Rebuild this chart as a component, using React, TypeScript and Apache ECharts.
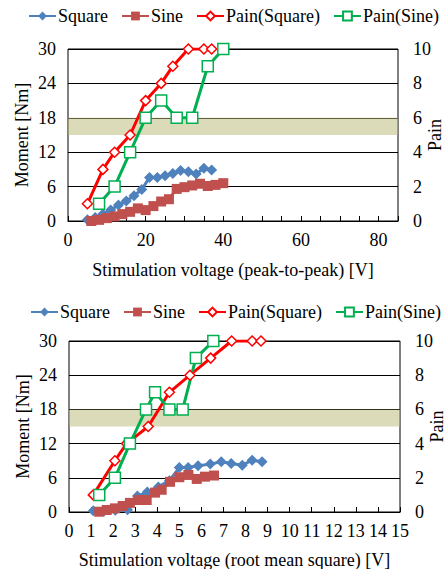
import React, { useEffect, useRef } from "react";
import * as echarts from "echarts";

const FONT = "'Liberation Serif', 'Times New Roman', serif";
const NAMES = ["Square", "Sine", "Pain(Square)", "Pain(Sine)"];

// Top chart: peak-to-peak voltage
const sqPPx = [5, 7, 9, 11, 13, 15, 17, 19, 21, 23, 25, 27, 29, 31, 33, 35, 37];
const sqPPy = [0.2, 0.6, 1.2, 1.9, 2.8, 3.5, 4.4, 5.5, 7.6, 7.6, 7.9, 8.3, 8.8, 8.6, 8.2, 9.2, 8.9];
const sinPPx = [6, 8, 10, 12, 14, 16, 18, 20, 22, 24, 26, 28, 30, 32, 34, 36, 38, 40];
const sinPPy = [0.0, 0.2, 0.5, 0.8, 1.2, 1.6, 2.2, 1.9, 2.6, 3.4, 3.8, 5.6, 5.9, 6.2, 6.5, 6.1, 6.3, 6.6];
const painSqPPx = [5, 9, 12, 16, 20, 24, 27, 31, 35, 37];
const painSqPPy = [1, 3, 4, 5, 7, 8, 9, 10, 10, 10];
const painSinPPx = [8, 12, 16, 20, 24, 28, 32, 36, 40];
const painSinPPy = [1, 2, 4, 6, 7, 6, 6, 9, 10];

// Bottom chart: root mean square voltage
const sqRMSx = [1.1, 1.6, 2.1, 2.65, 3.1, 3.55, 4.05, 4.55, 5.0, 5.4, 5.85, 6.4, 6.9, 7.35, 7.85, 8.3, 8.75];
const sqRMSy = [0.2, 0.2, 0.3, 0.4, 2.8, 3.5, 4.4, 5.5, 7.8, 7.8, 8.1, 8.4, 8.8, 8.5, 8.2, 9.1, 8.8];
const sinRMSx = [1.37, 1.71, 2.08, 2.43, 2.76, 3.14, 3.52, 3.9, 4.2, 4.58, 5.0, 5.41, 5.79, 6.16, 6.57];
const sinRMSy = [0.05, 0.35, 0.64, 1.05, 1.6, 2.1, 2.1, 3.4, 3.9, 5.3, 6.1, 6.5, 5.8, 6.2, 6.4];
const painSqRMSx = [1.1, 2.08, 2.61, 3.59, 4.55, 5.48, 6.42, 7.37, 8.3, 8.7];
const painSqRMSy = [1, 3, 4, 5, 7, 8, 9, 10, 10, 10];
const painSinRMSx = [1.37, 2.08, 2.76, 3.49, 3.9, 4.55, 5.15, 5.75, 6.54];
const painSinRMSy = [1, 2, 4, 6, 7, 6, 6, 9, 10];

// Band (Moment, Nm)
const bandLow = 15;
const bandHigh = 18;

const pairs = (xs: number[], ys: number[]) => xs.map((x, i) => [x, ys[i]]);

const styles: Record<string, any> = {
  Square: { color: "#4F81BD", symbol: "diamond", symbolSize: 11, itemStyle: { color: "#4F81BD" } },
  Sine: { color: "#C0504D", symbol: "rect", symbolSize: 10, itemStyle: { color: "#C0504D" } },
  "Pain(Square)": {
    color: "#FF0000",
    symbol: "diamond",
    symbolSize: 10,
    itemStyle: { color: "#fff", borderColor: "#FF0000", borderWidth: 1.5 },
  },
  "Pain(Sine)": {
    color: "#00B050",
    symbol: "rect",
    symbolSize: 11,
    itemStyle: { color: "#fff", borderColor: "#00B050", borderWidth: 1.5 },
  },
};

function mk(name: string, xs: number[], ys: number[], g: number, yIdx: number) {
  const s = styles[name];
  return {
    name,
    type: "line",
    xAxisIndex: g,
    yAxisIndex: yIdx,
    data: pairs(xs, ys),
    color: s.color,
    symbol: s.symbol,
    symbolSize: s.symbolSize,
    showAllSymbol: true,
    lineStyle: { color: s.color, width: 3 },
    itemStyle: s.itemStyle,
  };
}

function band(g: number) {
  return {
    type: "line",
    xAxisIndex: g,
    yAxisIndex: g * 2,
    data: [],
    z: 5,
    markArea: {
      silent: true,
      itemStyle: { color: "rgba(186,184,120,0.52)" },
      data: [[{ yAxis: bandLow }, { yAxis: bandHigh }]],
    },
  };
}

const lbl = { fontSize: 18, color: "#000", fontFamily: FONT };

function legend(top: number, left: number) {
  return {
    top,
    left,
    width: 600,
    padding: 0,
    itemGap: 13,
    itemWidth: 27,
    itemHeight: 11,
    data: NAMES,
    textStyle: { ...lbl, padding: [0, 0, 0, -3] },
  };
}

function xAxis(g: number, max: number, interval: number, step: number, name: string, gap: number) {
  return {
    gridIndex: g,
    type: "value",
    min: 0,
    max,
    interval,
    name,
    nameLocation: "middle",
    nameGap: gap,
    nameMoveOverlap: false,
    nameTextStyle: lbl,
    axisLine: { show: true, lineStyle: { color: "#000", width: 1 } },
    axisTick: { show: true, inside: true, length: 5, lineStyle: { color: "#000" } },
    axisLabel: {
      ...lbl,
      margin: 10,
      formatter: (v: number) => (Math.round(v) % step === 0 ? String(v) : ""),
    },
    splitLine: { show: false },
  };
}

function yLeft(g: number) {
  return {
    gridIndex: g,
    type: "value",
    min: 0,
    max: 30,
    interval: 6,
    name: "Moment [Nm]",
    nameLocation: "middle",
    nameRotate: 90,
    nameGap: 37,
    nameMoveOverlap: false,
    nameTextStyle: lbl,
    axisLine: { show: false },
    axisTick: { show: false },
    axisLabel: { ...lbl, margin: 12 },
    splitLine: { show: true, lineStyle: { color: "#000", width: 1 } },
  };
}

function yRight(g: number) {
  return {
    gridIndex: g,
    type: "value",
    position: "right",
    min: 0,
    max: 10,
    interval: 2,
    name: "Pain",
    nameLocation: "middle",
    nameRotate: 90,
    nameGap: 29,
    nameMoveOverlap: false,
    nameTextStyle: { ...lbl, lineHeight: 15 },
    axisLine: { show: false },
    axisTick: { show: false },
    axisLabel: { ...lbl, margin: 15 },
    splitLine: { show: false },
  };
}

const gridBase = {
  show: true,
  borderColor: "#000",
  borderWidth: 1,
  backgroundColor: "transparent",
  containLabel: false,
  outerBoundsMode: "none",
};

export default function App() {
  const ref = useRef<HTMLDivElement>(null);
  useEffect(() => {
    if (!ref.current) return;
    const chart = echarts.init(ref.current, null, { renderer: "svg" });
    chart.setOption({
      animation: false,
      backgroundColor: "#fff",
      textStyle: { fontFamily: FONT },
      legend: [legend(7, 28), legend(303, 30)],
      grid: [
        { ...gridBase, left: 68, top: 49, width: 330, height: 172 },
        { ...gridBase, left: 69, top: 341, width: 331, height: 171 },
      ],
      xAxis: [
        xAxis(0, 85, 5, 20, "Stimulation voltage (peak-to-peak) [V]", 40),
        xAxis(1, 15, 1, 1, "Stimulation voltage (root mean square) [V]", 39),
      ],
      yAxis: [yLeft(0), yRight(0), yLeft(1), yRight(1)],
      series: [
        mk("Square", sqPPx, sqPPy, 0, 0),
        mk("Sine", sinPPx, sinPPy, 0, 0),
        mk("Pain(Square)", painSqPPx, painSqPPy, 0, 1),
        mk("Pain(Sine)", painSinPPx, painSinPPy, 0, 1),
        band(0),
        mk("Square", sqRMSx, sqRMSy, 1, 2),
        mk("Sine", sinRMSx, sinRMSy, 1, 2),
        mk("Pain(Square)", painSqRMSx, painSqRMSy, 1, 3),
        mk("Pain(Sine)", painSinRMSx, painSinRMSy, 1, 3),
        band(1),
      ],
    });
    return () => chart.dispose();
  }, []);
  return (
    <div
      ref={ref}
      style={{ position: "absolute", left: 0, top: 0, width: 445, height: 569 }}
    />
  );
}
